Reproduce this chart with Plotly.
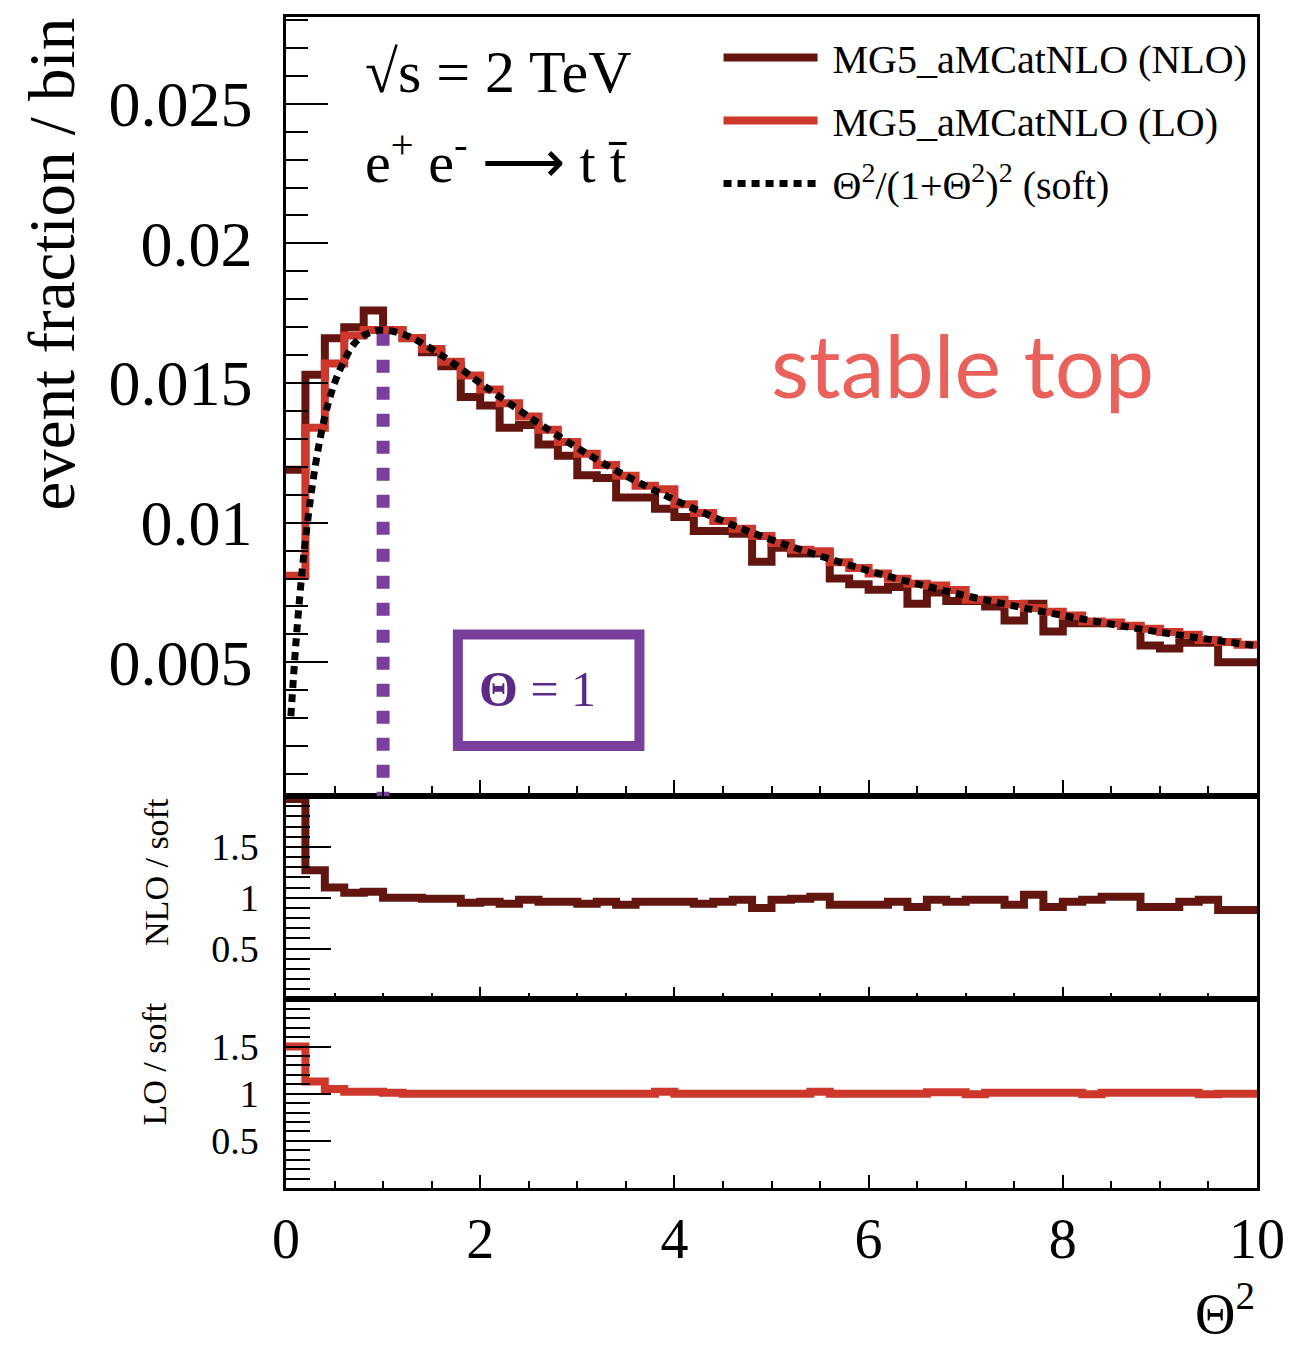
import numpy as np
import plotly.graph_objects as go

# ---------------- data ----------------
bin_edges = np.round(np.linspace(0.0, 10.0, 51), 2)   # 50 bins of width 0.2 in Theta^2

nlo_frac = [0.0119, 0.0153, 0.0166, 0.0170, 0.0176, 0.0169, 0.0166, 0.0161, 0.0156, 0.0145,
            0.0142, 0.0134, 0.0135, 0.0128, 0.0124, 0.0117, 0.0116, 0.0109, 0.0109, 0.0105,
            0.0102, 0.0097, 0.0097, 0.0096, 0.0086, 0.0091, 0.0089, 0.0089, 0.0080, 0.0078,
            0.0076, 0.0077, 0.0071, 0.0075, 0.0072, 0.0072, 0.0070, 0.0065, 0.0071, 0.0061,
            0.0064, 0.0064, 0.0064, 0.0063, 0.0056, 0.0055, 0.0057, 0.0057, 0.0050, 0.0050]

lo_frac = [0.0081, 0.0134, 0.0157, 0.0167, 0.0169, 0.0169, 0.01661, 0.01622, 0.01576, 0.01527,
           0.01477, 0.01428, 0.01380, 0.01333, 0.01289, 0.01247, 0.01207, 0.01168, 0.01132, 0.01120,
           0.01066, 0.01035, 0.01006, 0.00978, 0.00952, 0.00927, 0.00903, 0.00898, 0.00858, 0.00838,
           0.00818, 0.00799, 0.00781, 0.00775, 0.00759, 0.00724, 0.00724, 0.00709, 0.00695, 0.00681,
           0.00668, 0.00646, 0.00643, 0.00631, 0.00620, 0.00609, 0.00599, 0.00580, 0.00573, 0.00563]

soft_x = [0.05, 0.1, 0.15, 0.2, 0.3, 0.4, 0.5, 0.6, 0.7, 0.8, 0.9, 1.0, 1.2, 1.4, 1.6, 1.8,
          2.0, 2.5, 3.0, 3.5, 4.0, 4.5, 5.0, 6.0, 7.0, 8.0, 9.0, 10.0]
soft_y = [0.00307, 0.00559, 0.00767, 0.00939, 0.0120, 0.0138, 0.0150, 0.0158, 0.0164, 0.0167,
          0.01685, 0.0169, 0.01676, 0.01643, 0.0160, 0.01552, 0.0150, 0.0138, 0.01268, 0.01168,
          0.01082, 0.01006, 0.00939, 0.00828, 0.00739, 0.00668, 0.00608, 0.00559]

nlo_ratio = [1.97, 1.27, 1.10, 1.05, 1.06, 1.00, 1.00, 0.99, 0.99, 0.95,
             0.96, 0.94, 0.98, 0.96, 0.96, 0.94, 0.96, 0.93, 0.96, 0.96,
             0.96, 0.94, 0.96, 0.98, 0.90, 0.98, 0.99, 1.01, 0.93, 0.93,
             0.93, 0.96, 0.91, 0.98, 0.96, 0.98, 0.98, 0.93, 1.03, 0.91,
             0.96, 0.98, 1.01, 1.01, 0.91, 0.91, 0.96, 0.98, 0.88, 0.88]

lo_ratio = [1.50, 1.13, 1.05, 1.02, 1.02, 1.01, 1.00, 1.00, 1.00, 1.00,
            1.00, 1.00, 1.00, 1.00, 1.00, 1.00, 1.00, 1.00, 1.00, 1.02,
            1.00, 1.00, 1.00, 1.00, 1.00, 1.00, 1.00, 1.02, 1.00, 1.00,
            1.00, 1.00, 1.00, 1.015, 1.015, 0.995, 1.01, 1.01, 1.01, 1.01,
            1.01, 0.995, 1.01, 1.01, 1.01, 1.01, 1.01, 0.995, 1.00, 1.00]

x_tick_vals = [0, 2, 4, 6, 8, 10]
x_tick_text = ["0", "2", "4", "6", "8", "10"]
main_tick_vals = [0.005, 0.01, 0.015, 0.02, 0.025]
main_tick_text = ["0.005", "0.01", "0.015", "0.02", "0.025"]
ratio_tick_vals = [0.5, 1.0, 1.5]
ratio_tick_text = ["0.5", "1", "1.5"]

# ---------------- style ----------------
C_NLO = "#63150F"
C_LO = "#CD372C"
C_PURPLE = "#7A3E9D"
SERIF = "Liberation Serif"
OFF = 8                      # page body margin
W, H = 1283, 1340
ML, MT = 286 - OFF, 14 - OFF
MR = W - (1258 - OFF)
MB = H - (1188 - OFF)
PW, PH = W - ML - MR, H - MT - MB


def px_x(p):
    return (p - OFF - ML) / PW


def px_y(p):
    return (H - MB - (p - OFF)) / PH


def step(vals):
    return list(bin_edges), list(vals) + [vals[-1]]


NB = "\u00a0"
fig = go.Figure()

x, y = step(nlo_frac)
fig.add_trace(go.Scatter(x=x, y=y, mode="lines", line=dict(shape="hv", color=C_NLO, width=8),
                         name=NB + "MG5_aMCatNLO (NLO)", xaxis="x3", yaxis="y3", legendgroup="a"))
x, y = step(lo_frac)
fig.add_trace(go.Scatter(x=x, y=y, mode="lines", line=dict(shape="hv", color=C_LO, width=8),
                         name=NB + "MG5_aMCatNLO (LO)", xaxis="x3", yaxis="y3", legendgroup="b"))
fig.add_trace(go.Scatter(x=soft_x, y=soft_y, mode="lines",
                         line=dict(shape="spline", color="black", width=7, dash="8px,6px"),
                         name=NB + "Θ<sup>2</sup>/(1+Θ<sup>2</sup>)<sup>2</sup> (soft)",
                         xaxis="x3", yaxis="y3", legendgroup="c"))

x, y = step(nlo_ratio)
fig.add_trace(go.Scatter(x=x, y=y, mode="lines", line=dict(shape="hv", color=C_NLO, width=8),
                         showlegend=False, xaxis="x2", yaxis="y2"))
x, y = step(lo_ratio)
fig.add_trace(go.Scatter(x=x, y=y, mode="lines", line=dict(shape="hv", color=C_LO, width=8),
                         showlegend=False, xaxis="x", yaxis="y"))

d_main = [px_y(795), 1.0]
d_r1 = [px_y(999), px_y(795)]
d_r2 = [0.0, px_y(999)]

frame = dict(showline=True, linecolor="black", linewidth=2.5, mirror=True,
             showgrid=False, zeroline=False, ticks="inside", tickcolor="black", tickwidth=2)

xcommon = dict(range=[0, 10], tickmode="array", tickvals=x_tick_vals, **frame)

fig.update_layout(
    width=W, height=H,
    margin=dict(l=ML, r=MR, t=MT, b=MB),
    paper_bgcolor="white", plot_bgcolor="white",
    font=dict(family=SERIF, color="black"),
    xaxis=dict(domain=[0, 1], anchor="y", ticktext=x_tick_text, ticklen=13,
               tickfont=dict(family=SERIF, size=56), ticklabelstandoff=0,
               minor=dict(tickmode="linear", tick0=0, dtick=0.5, ticklen=7, ticks="inside",
                          tickcolor="black", tickwidth=2), **xcommon),
    xaxis2=dict(domain=[0, 1], anchor="y2", matches="x", showticklabels=False, ticklen=13,
                minor=dict(tickmode="linear", tick0=0, dtick=0.5, ticklen=7, ticks="inside",
                           tickcolor="black", tickwidth=2), **xcommon),
    xaxis3=dict(domain=[0, 1], anchor="y3", matches="x", showticklabels=False, ticklen=16,
                minor=dict(tickmode="linear", tick0=0, dtick=0.5, ticklen=10, ticks="inside",
                           tickcolor="black", tickwidth=2), **xcommon),
    yaxis3=dict(domain=d_main, anchor="x3", range=[0.000214, 0.028107], tickmode="array",
                tickvals=main_tick_vals, ticktext=main_tick_text, ticklen=42,
                tickfont=dict(family=SERIF, size=64), ticklabelstandoff=18,
                minor=dict(tickmode="linear", tick0=0, dtick=0.001, ticklen=22, ticks="inside",
                           tickcolor="black", tickwidth=2), **frame),
    yaxis2=dict(domain=d_r1, anchor="x2", range=[0, 2], tickmode="array",
                tickvals=ratio_tick_vals, ticktext=ratio_tick_text, ticklen=45,
                tickfont=dict(family=SERIF, size=38), ticklabelstandoff=17,
                minor=dict(tickmode="linear", tick0=0, dtick=0.1, ticklen=24, ticks="inside",
                           tickcolor="black", tickwidth=2), **frame),
    yaxis=dict(domain=d_r2, anchor="x", range=[0, 2], tickmode="array",
               tickvals=ratio_tick_vals, ticktext=ratio_tick_text, ticklen=45,
               tickfont=dict(family=SERIF, size=38), ticklabelstandoff=17,
               minor=dict(tickmode="linear", tick0=0, dtick=0.1, ticklen=24, ticks="inside",
                          tickcolor="black", tickwidth=2), **frame),
    showlegend=True,
    legend=dict(x=px_x(719), y=px_y(22), xanchor="left", yanchor="top",
                bgcolor="rgba(0,0,0,0)", font=dict(family=SERIF, size=40, color="black"),
                itemwidth=94, tracegroupgap=8, traceorder="grouped"),
)

# Theta = 1 marker line and box
fig.add_shape(type="line", xref="x3", yref="y3", x0=1.0, x1=1.0, y0=0.0168, y1=0.0,
              line=dict(color=C_PURPLE, width=13, dash="13px,14px"), layer="below")
fig.add_shape(type="rect", xref="x3", yref="y3", x0=1.77, x1=3.64, y0=0.0020, y1=0.0060,
              line=dict(color=C_PURPLE, width=10), fillcolor="rgba(0,0,0,0)")

ann = [
    dict(text="√s = 2 TeV", x=px_x(363), y=px_y(69), xanchor="left", yanchor="middle",
         font=dict(family=SERIF, size=60, color="black")),
    dict(text="e<sup>+</sup> e<sup>-</sup> \u27f6 t t\u0304", x=px_x(363), y=px_y(156),
         xanchor="left", yanchor="middle", font=dict(family=SERIF, size=58, color="black")),
    dict(text="stable top", x=px_x(963), y=px_y(362), xanchor="center", yanchor="middle",
         font=dict(family="Lato", size=88, color="#EA605A")),
    dict(text="<b>Θ</b> = 1", x=px_x(538), y=px_y(688), xanchor="center", yanchor="middle",
         font=dict(family=SERIF, size=50, color="#5C2A86")),
    dict(text="event fraction / bin", x=px_x(52), y=px_y(262), xanchor="center",
         yanchor="middle", textangle=-90, font=dict(family=SERIF, size=65, color="black")),
    dict(text="NLO / soft", x=px_x(157), y=px_y(871), xanchor="center", yanchor="middle",
         textangle=-90, font=dict(family=SERIF, size=34, color="black")),
    dict(text="LO / soft", x=px_x(154), y=px_y(1064), xanchor="center", yanchor="middle",
         textangle=-90, font=dict(family=SERIF, size=34, color="black")),
    dict(text="Θ<sup>2</sup>", x=1.0, y=px_y(1347), xanchor="right", yanchor="bottom",
         font=dict(family=SERIF, size=56, color="black")),
]
for a in ann:
    fig.add_annotation(xref="paper", yref="paper", showarrow=False, **a)

fig.write_html("out.html")
